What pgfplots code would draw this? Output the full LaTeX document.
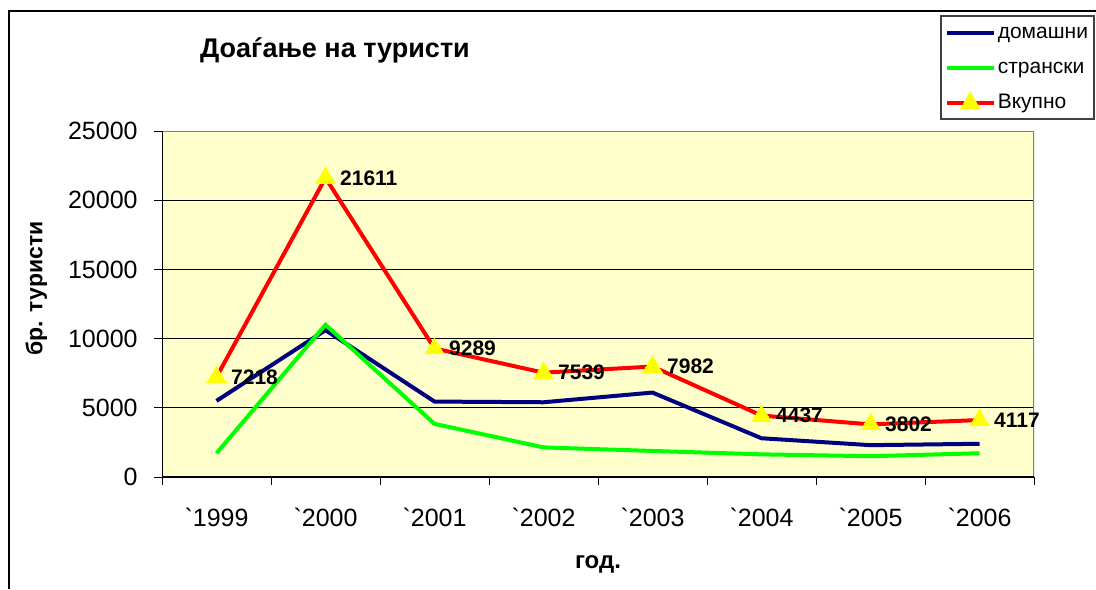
\documentclass[border=0pt]{standalone}
\usepackage{fontspec}
\setmainfont{Liberation Sans}
\usepackage{pgfplots}
\pgfplotsset{compat=1.18}
\definecolor{plotbg}{RGB}{255,255,204}
\definecolor{navyc}{RGB}{0,0,128}
\definecolor{greenc}{RGB}{0,255,0}
\definecolor{redc}{RGB}{255,0,0}
\definecolor{yellowc}{RGB}{255,255,0}
\begin{document}
\begin{tikzpicture}
\useasboundingbox (0,0) rectangle (548pt,294.5pt);
\draw[line width=1pt] (4.25pt,0) -- (4.25pt,289pt) -- (548pt,289pt);
\node[font=\bfseries\fontsize{13.5}{15}\selectfont] at (167.5pt,269.5pt) {Доаѓање на туристи};
\begin{axis}[
  at={(81pt,56pt)}, anchor=south west,
  scale only axis, width=436pt, height=173pt,
  xmin=-0.5, xmax=7.5, ymin=0, ymax=25000,
  xtick={-0.5,0.5,...,7.5}, xticklabels={},
  extra x ticks={0,1,2,3,4,5,6,7},
  extra x tick labels={\textasciigrave 1999,\textasciigrave 2000,\textasciigrave 2001,\textasciigrave 2002,\textasciigrave 2003,\textasciigrave 2004,\textasciigrave 2005,\textasciigrave 2006},
  extra x tick style={major tick length=0pt, grid=none},
  ytick={0,5000,...,25000},
  scaled y ticks=false,
  xtick pos=bottom, ytick pos=left,
  ymajorgrids, grid style={black, line width=0.5pt},
  tick align=outside, major tick length=4pt,
  tick style={black, line width=0.5pt},
  axis line style={draw=none},
  axis background/.style={fill=plotbg},
  /pgf/number format/assume math mode=true,
  /pgf/number format/1000 sep={},
  ticklabel style={font=\fontsize{12.5}{14}\selectfont},
  xticklabel style={anchor=center, yshift=-20pt},
  yticklabel style={anchor=east, inner sep=0pt, xshift=-8pt},
  xlabel={год.},
  xlabel style={at={(rel axis cs:0.5,-0.254)}, anchor=center, font=\bfseries\fontsize{12}{14}\selectfont},
  ylabel={бр. туристи},
  ylabel style={at={(rel axis cs:-0.144,0.545)}, anchor=center, font=\bfseries\fontsize{11.5}{14}\selectfont},
  legend style={at={(rel axis cs:0.8922,1.3343)}, anchor=north west, draw=black!75, line width=0.8pt,
    fill=white, font=\fontsize{10.5}{12}\selectfont, inner xsep=2pt, inner ysep=2pt, row sep=5pt,
    nodes={inner sep=1pt, text height=8pt, text depth=2.5pt}},
  legend cell align=left,
  legend image code/.code={\draw[mark repeat=2,mark phase=2,#1] plot coordinates {(0pt,0pt) (11.75pt,0pt) (23.5pt,0pt)};},
  every node near coord/.append style={anchor=west, xshift=4pt, font=\bfseries\fontsize{10.5}{12}\selectfont, black},
]
\addplot[navyc, line width=2pt] coordinates {
 (0,5500) (1,10611) (2,5450) (3,5400) (4,6100) (5,2800) (6,2300) (7,2400)};
\addlegendentry{домашни}
\addplot[greenc, line width=2pt] coordinates {
 (0,1718) (1,11000) (2,3839) (3,2139) (4,1882) (5,1637) (6,1502) (7,1717)};
\addlegendentry{странски}
\addplot[redc, line width=2pt, mark=triangle*, mark size=5.5pt,
  mark options={fill=yellowc, draw=yellowc, line width=0pt},
  nodes near coords, point meta=y] coordinates {
 (0,7218) (1,21611) (2,9289) (3,7539) (4,7982) (5,4437) (6,3802) (7,4117)};
\addlegendentry{Вкупно}
\draw[gray, line width=0.6pt] (rel axis cs:0,1) -- (rel axis cs:1,1) -- (rel axis cs:1,0);
\draw[black, line width=0.6pt] (rel axis cs:0,1) -- (rel axis cs:0,0) -- (rel axis cs:1,0);
\end{axis}
\end{tikzpicture}
\end{document}
